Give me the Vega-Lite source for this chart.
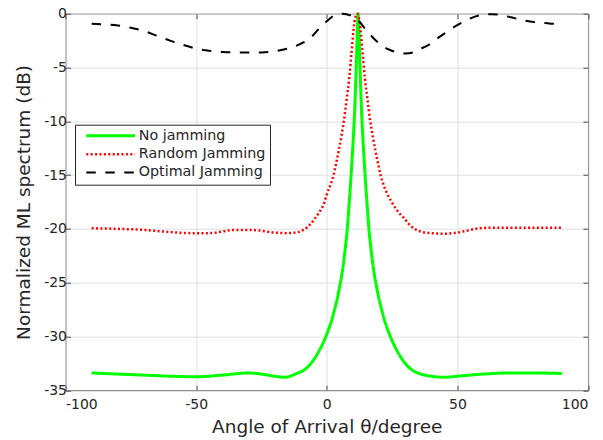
{
 "$schema": "https://vega.github.io/schema/vega-lite/v6.json",
 "width": 522.5,
 "height": 376.5,
 "autosize": {"type": "none"},
 "padding": {"left": 65.5, "top": 13.7, "right": 15, "bottom": 50},
 "background": "white",
 "config": {
  "font": "DejaVu Sans",
  "view": {"stroke": "#4d4d4d", "strokeWidth": 1},
  "axis": {"domain": false, "grid": true, "gridColor": "#e0e0e0", "gridWidth": 1, "tickColor": "#4d4d4d", "tickSize": -5, "labelColor": "#262626", "labelFontSize": 14, "titleColor": "#262626", "titleFontSize": 18.5, "titleFontWeight": "normal", "labelExpr": "'' + datum.value"}
 },
 "datasets": {
  "curves": [
   {"series": "No jamming", "angle": -90, "db": -33.4},
   {"series": "No jamming", "angle": -80, "db": -33.5},
   {"series": "No jamming", "angle": -70, "db": -33.6},
   {"series": "No jamming", "angle": -60, "db": -33.7},
   {"series": "No jamming", "angle": -50, "db": -33.75},
   {"series": "No jamming", "angle": -40, "db": -33.6},
   {"series": "No jamming", "angle": -30, "db": -33.4},
   {"series": "No jamming", "angle": -25, "db": -33.5},
   {"series": "No jamming", "angle": -20, "db": -33.7},
   {"series": "No jamming", "angle": -16, "db": -33.8},
   {"series": "No jamming", "angle": -12, "db": -33.5},
   {"series": "No jamming", "angle": -8, "db": -33.0},
   {"series": "No jamming", "angle": -6, "db": -32.5},
   {"series": "No jamming", "angle": -4, "db": -31.8},
   {"series": "No jamming", "angle": -2, "db": -30.9},
   {"series": "No jamming", "angle": 0, "db": -29.8},
   {"series": "No jamming", "angle": 2, "db": -28.4},
   {"series": "No jamming", "angle": 3, "db": -27.5},
   {"series": "No jamming", "angle": 4, "db": -26.5},
   {"series": "No jamming", "angle": 5, "db": -25.3},
   {"series": "No jamming", "angle": 6, "db": -23.9},
   {"series": "No jamming", "angle": 7, "db": -22.0},
   {"series": "No jamming", "angle": 8, "db": -19.6},
   {"series": "No jamming", "angle": 8.5, "db": -17.9},
   {"series": "No jamming", "angle": 9, "db": -16.2},
   {"series": "No jamming", "angle": 9.5, "db": -14.3},
   {"series": "No jamming", "angle": 10, "db": -12.3},
   {"series": "No jamming", "angle": 10.5, "db": -10},
   {"series": "No jamming", "angle": 11, "db": -7},
   {"series": "No jamming", "angle": 11.4, "db": -4},
   {"series": "No jamming", "angle": 11.7, "db": -1.5},
   {"series": "No jamming", "angle": 12, "db": 0},
   {"series": "No jamming", "angle": 12.3, "db": -1.5},
   {"series": "No jamming", "angle": 12.6, "db": -4},
   {"series": "No jamming", "angle": 13, "db": -7},
   {"series": "No jamming", "angle": 13.5, "db": -10},
   {"series": "No jamming", "angle": 14, "db": -12.3},
   {"series": "No jamming", "angle": 14.5, "db": -14.3},
   {"series": "No jamming", "angle": 15, "db": -16.2},
   {"series": "No jamming", "angle": 15.5, "db": -17.9},
   {"series": "No jamming", "angle": 16, "db": -19.6},
   {"series": "No jamming", "angle": 17, "db": -22.0},
   {"series": "No jamming", "angle": 18, "db": -23.9},
   {"series": "No jamming", "angle": 19, "db": -25.3},
   {"series": "No jamming", "angle": 20, "db": -26.5},
   {"series": "No jamming", "angle": 21, "db": -27.5},
   {"series": "No jamming", "angle": 22, "db": -28.4},
   {"series": "No jamming", "angle": 24, "db": -29.8},
   {"series": "No jamming", "angle": 26, "db": -30.9},
   {"series": "No jamming", "angle": 28, "db": -31.8},
   {"series": "No jamming", "angle": 30, "db": -32.5},
   {"series": "No jamming", "angle": 32, "db": -33.0},
   {"series": "No jamming", "angle": 36, "db": -33.5},
   {"series": "No jamming", "angle": 40, "db": -33.7},
   {"series": "No jamming", "angle": 45, "db": -33.8},
   {"series": "No jamming", "angle": 50, "db": -33.7},
   {"series": "No jamming", "angle": 60, "db": -33.5},
   {"series": "No jamming", "angle": 70, "db": -33.4},
   {"series": "No jamming", "angle": 80, "db": -33.4},
   {"series": "No jamming", "angle": 90, "db": -33.45},
   {"series": "Random Jamming", "angle": -90, "db": -19.95},
   {"series": "Random Jamming", "angle": -80, "db": -20.0},
   {"series": "Random Jamming", "angle": -70, "db": -20.1},
   {"series": "Random Jamming", "angle": -60, "db": -20.3},
   {"series": "Random Jamming", "angle": -52, "db": -20.4},
   {"series": "Random Jamming", "angle": -45, "db": -20.4},
   {"series": "Random Jamming", "angle": -40, "db": -20.25},
   {"series": "Random Jamming", "angle": -36, "db": -20.1},
   {"series": "Random Jamming", "angle": -30, "db": -20.1},
   {"series": "Random Jamming", "angle": -26, "db": -20.15},
   {"series": "Random Jamming", "angle": -20, "db": -20.35},
   {"series": "Random Jamming", "angle": -15, "db": -20.4},
   {"series": "Random Jamming", "angle": -11, "db": -20.3},
   {"series": "Random Jamming", "angle": -9, "db": -20.1},
   {"series": "Random Jamming", "angle": -7, "db": -19.75},
   {"series": "Random Jamming", "angle": -5, "db": -19.2},
   {"series": "Random Jamming", "angle": -3, "db": -18.5},
   {"series": "Random Jamming", "angle": -1, "db": -17.6},
   {"series": "Random Jamming", "angle": 0, "db": -16.8},
   {"series": "Random Jamming", "angle": 1.6, "db": -15.8},
   {"series": "Random Jamming", "angle": 2.6, "db": -15.0},
   {"series": "Random Jamming", "angle": 3.6, "db": -13.9},
   {"series": "Random Jamming", "angle": 4.6, "db": -12.7},
   {"series": "Random Jamming", "angle": 5.6, "db": -11.4},
   {"series": "Random Jamming", "angle": 6.6, "db": -9.9},
   {"series": "Random Jamming", "angle": 7.6, "db": -8.0},
   {"series": "Random Jamming", "angle": 8.6, "db": -6.0},
   {"series": "Random Jamming", "angle": 9.6, "db": -3.3},
   {"series": "Random Jamming", "angle": 10.1, "db": -1.9},
   {"series": "Random Jamming", "angle": 10.6, "db": -0.8},
   {"series": "Random Jamming", "angle": 11.1, "db": -0.2},
   {"series": "Random Jamming", "angle": 11.6, "db": 0},
   {"series": "Random Jamming", "angle": 12.1, "db": -0.2},
   {"series": "Random Jamming", "angle": 12.6, "db": -0.8},
   {"series": "Random Jamming", "angle": 13.1, "db": -1.9},
   {"series": "Random Jamming", "angle": 13.6, "db": -3.3},
   {"series": "Random Jamming", "angle": 14.6, "db": -6.0},
   {"series": "Random Jamming", "angle": 15.6, "db": -8.0},
   {"series": "Random Jamming", "angle": 16.6, "db": -9.9},
   {"series": "Random Jamming", "angle": 17.6, "db": -11.4},
   {"series": "Random Jamming", "angle": 18.6, "db": -12.7},
   {"series": "Random Jamming", "angle": 19.6, "db": -13.9},
   {"series": "Random Jamming", "angle": 20.6, "db": -15.0},
   {"series": "Random Jamming", "angle": 21.6, "db": -15.8},
   {"series": "Random Jamming", "angle": 23.1, "db": -16.7},
   {"series": "Random Jamming", "angle": 24.6, "db": -17.4},
   {"series": "Random Jamming", "angle": 26.1, "db": -18.0},
   {"series": "Random Jamming", "angle": 27.6, "db": -18.5},
   {"series": "Random Jamming", "angle": 29.6, "db": -19.0},
   {"series": "Random Jamming", "angle": 31.6, "db": -19.6},
   {"series": "Random Jamming", "angle": 33.6, "db": -20.0},
   {"series": "Random Jamming", "angle": 36.6, "db": -20.3},
   {"series": "Random Jamming", "angle": 40, "db": -20.4},
   {"series": "Random Jamming", "angle": 45, "db": -20.45},
   {"series": "Random Jamming", "angle": 50, "db": -20.35},
   {"series": "Random Jamming", "angle": 53, "db": -20.2},
   {"series": "Random Jamming", "angle": 57, "db": -20.0},
   {"series": "Random Jamming", "angle": 62, "db": -19.9},
   {"series": "Random Jamming", "angle": 70, "db": -19.9},
   {"series": "Random Jamming", "angle": 80, "db": -19.9},
   {"series": "Random Jamming", "angle": 90, "db": -19.9},
   {"series": "Optimal Jamming", "angle": -90, "db": -0.93},
   {"series": "Optimal Jamming", "angle": -85, "db": -1.0},
   {"series": "Optimal Jamming", "angle": -80, "db": -1.1},
   {"series": "Optimal Jamming", "angle": -75, "db": -1.3},
   {"series": "Optimal Jamming", "angle": -70, "db": -1.6},
   {"series": "Optimal Jamming", "angle": -65, "db": -2.05},
   {"series": "Optimal Jamming", "angle": -60, "db": -2.5},
   {"series": "Optimal Jamming", "angle": -55, "db": -2.9},
   {"series": "Optimal Jamming", "angle": -50, "db": -3.25},
   {"series": "Optimal Jamming", "angle": -45, "db": -3.45},
   {"series": "Optimal Jamming", "angle": -40, "db": -3.55},
   {"series": "Optimal Jamming", "angle": -35, "db": -3.6},
   {"series": "Optimal Jamming", "angle": -30, "db": -3.6},
   {"series": "Optimal Jamming", "angle": -25, "db": -3.6},
   {"series": "Optimal Jamming", "angle": -20, "db": -3.5},
   {"series": "Optimal Jamming", "angle": -15, "db": -3.25},
   {"series": "Optimal Jamming", "angle": -10, "db": -2.8},
   {"series": "Optimal Jamming", "angle": -6, "db": -2.2},
   {"series": "Optimal Jamming", "angle": -3, "db": -1.4},
   {"series": "Optimal Jamming", "angle": 0, "db": -0.7},
   {"series": "Optimal Jamming", "angle": 3, "db": -0.15},
   {"series": "Optimal Jamming", "angle": 6, "db": 0},
   {"series": "Optimal Jamming", "angle": 9, "db": -0.15},
   {"series": "Optimal Jamming", "angle": 12, "db": -0.6},
   {"series": "Optimal Jamming", "angle": 15, "db": -1.5},
   {"series": "Optimal Jamming", "angle": 18, "db": -2.3},
   {"series": "Optimal Jamming", "angle": 21, "db": -2.95},
   {"series": "Optimal Jamming", "angle": 24, "db": -3.35},
   {"series": "Optimal Jamming", "angle": 27, "db": -3.6},
   {"series": "Optimal Jamming", "angle": 30, "db": -3.7},
   {"series": "Optimal Jamming", "angle": 33, "db": -3.6},
   {"series": "Optimal Jamming", "angle": 36, "db": -3.25},
   {"series": "Optimal Jamming", "angle": 39, "db": -2.9},
   {"series": "Optimal Jamming", "angle": 42, "db": -2.35},
   {"series": "Optimal Jamming", "angle": 45, "db": -1.85},
   {"series": "Optimal Jamming", "angle": 48, "db": -1.35},
   {"series": "Optimal Jamming", "angle": 51, "db": -0.93},
   {"series": "Optimal Jamming", "angle": 54, "db": -0.55},
   {"series": "Optimal Jamming", "angle": 57, "db": -0.25},
   {"series": "Optimal Jamming", "angle": 60, "db": -0.1},
   {"series": "Optimal Jamming", "angle": 63, "db": -0.05},
   {"series": "Optimal Jamming", "angle": 66, "db": -0.1},
   {"series": "Optimal Jamming", "angle": 70, "db": -0.3},
   {"series": "Optimal Jamming", "angle": 75, "db": -0.6},
   {"series": "Optimal Jamming", "angle": 80, "db": -0.8},
   {"series": "Optimal Jamming", "angle": 85, "db": -0.9},
   {"series": "Optimal Jamming", "angle": 90, "db": -0.95}
  ]
 },
 "data": {"name": "curves"},
 "layer": [
  {
   "mark": {"type": "line", "interpolate": "monotone"},
   "encoding": {
    "x": {"field": "angle", "type": "quantitative", "scale": {"domain": [-100, 100], "nice": false},
          "axis": {"values": [-100, -50, 0, 50, 100], "title": "Angle of Arrival θ/degree", "labelPadding": 12, "titlePadding": 6}},
    "y": {"field": "db", "type": "quantitative", "scale": {"domain": [-35, 0], "nice": false},
          "axis": {"values": [-35, -30, -25, -20, -15, -10, -5, 0], "title": "Normalized ML spectrum (dB)", "labelPadding": 4, "titlePadding": 10}},
    "color": {"field": "series", "type": "nominal",
              "scale": {"domain": ["No jamming", "Random Jamming", "Optimal Jamming"], "range": ["#00ff00", "#ff0000", "#000000"]},
              "legend": {"orient": "none", "legendX": 9.5, "legendY": 111, "title": null, "symbolType": "M-5,0H5", "symbolSize": 95, "symbolStrokeWidth": 2, "labelFontSize": 14.3, "labelColor": "#262626", "padding": 4, "rowPadding": 3.3, "strokeColor": "#262626", "fillColor": "white", "symbolOffset": 24.5, "labelOffset": 21, "cornerRadius": 0}},
    "strokeDash": {"field": "series", "type": "nominal",
              "scale": {"domain": ["No jamming", "Random Jamming", "Optimal Jamming"], "range": [[1, 0], [2, 2.4], [9.5, 9.5]]},
              "legend": {"orient": "none", "legendX": 9.5, "legendY": 111, "title": null, "symbolType": "M-5,0H5", "symbolSize": 95, "symbolStrokeWidth": 2, "labelFontSize": 14.3, "labelColor": "#262626", "padding": 4, "rowPadding": 3.3, "strokeColor": "#262626", "fillColor": "white", "symbolOffset": 24.5, "labelOffset": 21, "cornerRadius": 0}},
    "strokeWidth": {"field": "series", "type": "nominal",
              "scale": {"domain": ["No jamming", "Random Jamming", "Optimal Jamming"], "range": [3, 2, 2]}, "legend": null}
   }
  },
  {
   "mark": {"type": "line", "opacity": 0},
   "encoding": {
    "x": {"field": "angle", "type": "quantitative", "axis": {"orient": "top", "values": [-100, -50, 0, 50, 100], "labels": false, "title": null, "grid": false}},
    "y": {"field": "db", "type": "quantitative", "axis": {"orient": "right", "values": [-35, -30, -25, -20, -15, -10, -5, 0], "labels": false, "title": null, "grid": false}},
    "detail": {"field": "series"}
   }
  }
 ],
 "resolve": {"axis": {"x": "independent", "y": "independent"}}
}
